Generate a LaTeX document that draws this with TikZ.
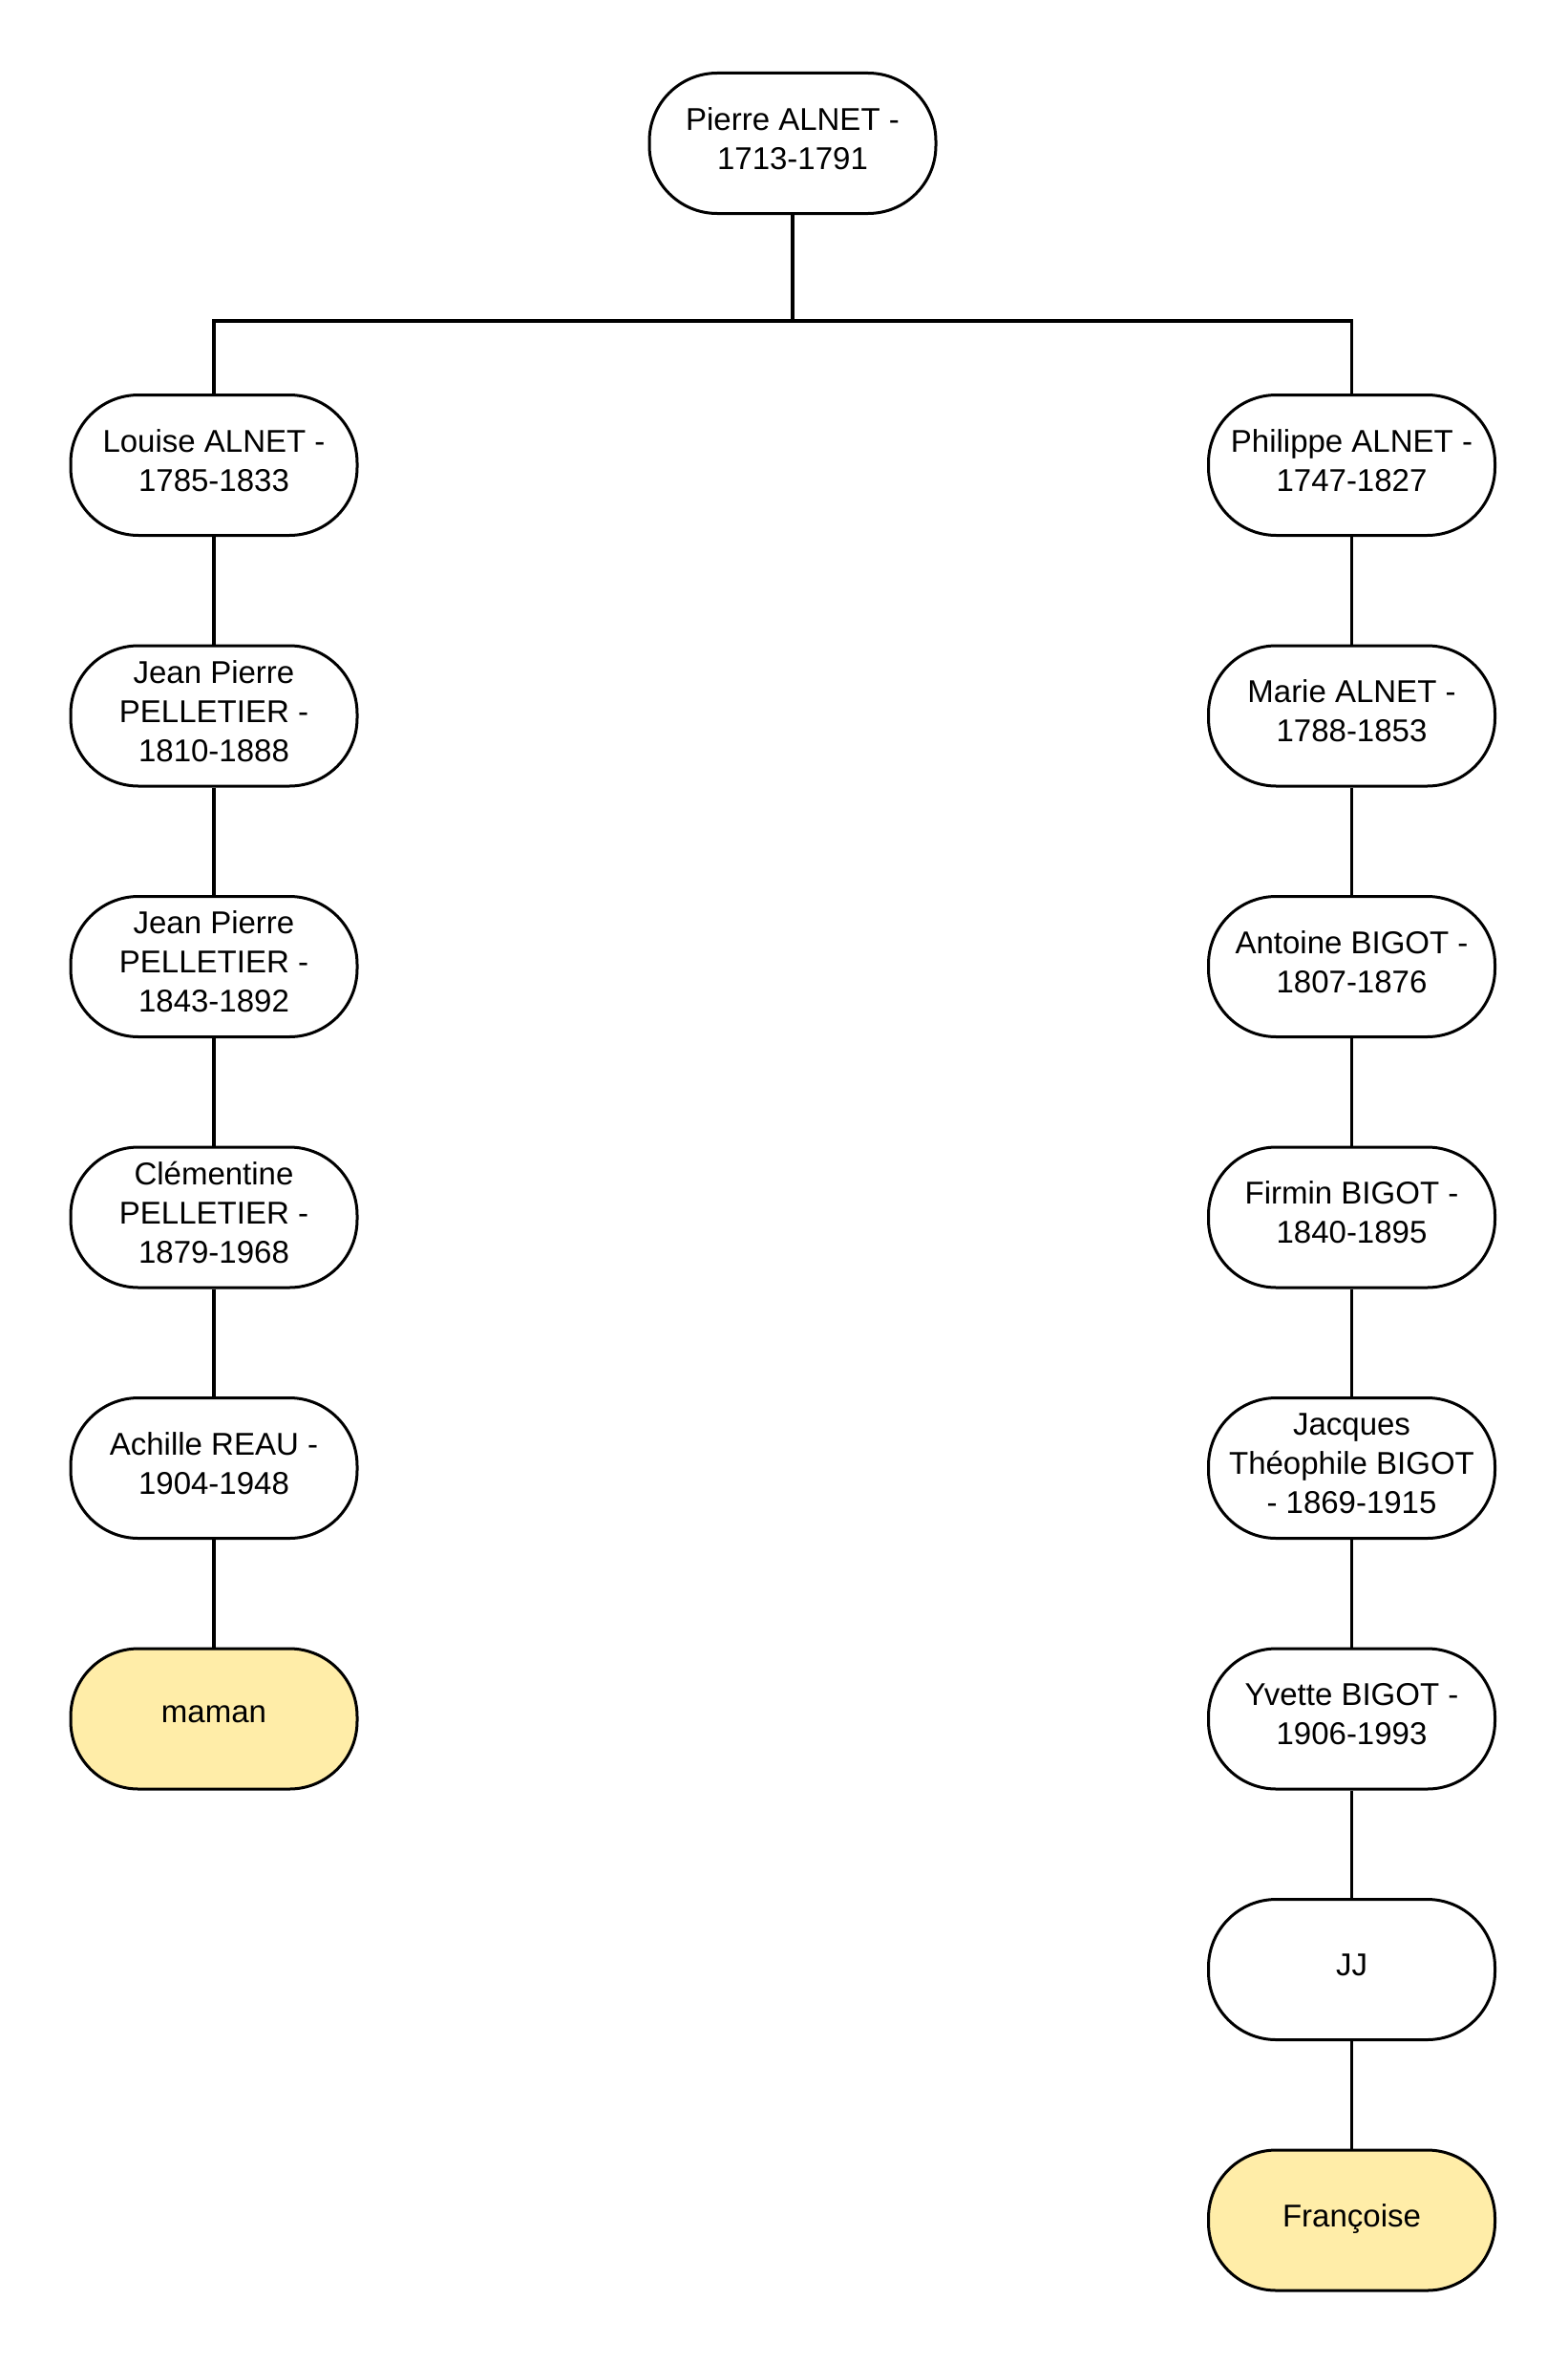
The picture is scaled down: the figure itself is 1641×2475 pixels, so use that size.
\documentclass[tikz,border=0pt]{standalone}
\usepackage{fontspec}
\setmainfont{Liberation Sans}
\definecolor{leaf}{HTML}{FFEDA8}
\tikzset{
    person/.style={draw, line width=3pt, rounded corners=71pt, minimum width=300pt,
        minimum height=147pt, inner sep=0pt, align=center, fill=white, text depth=10pt,
        font=\fontsize{33}{41}\selectfont},
    me/.style={person, fill=leaf},
    link/.style={line width=3.3pt}
}
\begin{document}
\begin{tikzpicture}[x=1pt, y=-1pt]
    \useasboundingbox (0,0) rectangle (1641,2475);

    % root
    \node[person] (pierre) at (830,150) {Pierre ALNET -\\1713-1791};

    % left branch
    \node[person] (louise) at (224,487) {Louise ALNET -\\1785-1833};
    \node[person] (jeanA) at (224,749.5) {Jean Pierre\\PELLETIER -\\1810-1888};
    \node[person] (jeanB) at (224,1012) {Jean Pierre\\PELLETIER -\\1843-1892};
    \node[person] (clem) at (224,1274.5) {Clémentine\\PELLETIER -\\1879-1968};
    \node[person] (achille) at (224,1537) {Achille REAU -\\1904-1948};
    \node[me] (maman) at (224,1799.5) {maman};

    % right branch
    \node[person] (philippe) at (1415.5,487) {Philippe ALNET -\\1747-1827};
    \node[person] (marie) at (1415.5,749.5) {Marie ALNET -\\1788-1853};
    \node[person] (antoine) at (1415.5,1012) {Antoine BIGOT -\\1807-1876};
    \node[person] (firmin) at (1415.5,1274.5) {Firmin BIGOT -\\1840-1895};
    \node[person] (jacques) at (1415.5,1537) {Jacques\\Théophile BIGOT\\- 1869-1915};
    \node[person] (yvette) at (1415.5,1799.5) {Yvette BIGOT -\\1906-1993};
    \node[person] (jj) at (1415.5,2062) {JJ};
    \node[me] (francoise) at (1415.5,2324.5) {Françoise};

    \coordinate (split) at (830,336);
    \draw[link] (pierre.south) -- (split);
    \draw[link] (split) -| (louise.north);
    \draw[link] (split) -| (philippe.north);

    \foreach \a/\b in {louise/jeanA, jeanA/jeanB, jeanB/clem, clem/achille, achille/maman,
        philippe/marie, marie/antoine, antoine/firmin, firmin/jacques, jacques/yvette,
        yvette/jj, jj/francoise}
        \draw[link] (\a.south) -- (\b.north);
\end{tikzpicture}
\end{document}
